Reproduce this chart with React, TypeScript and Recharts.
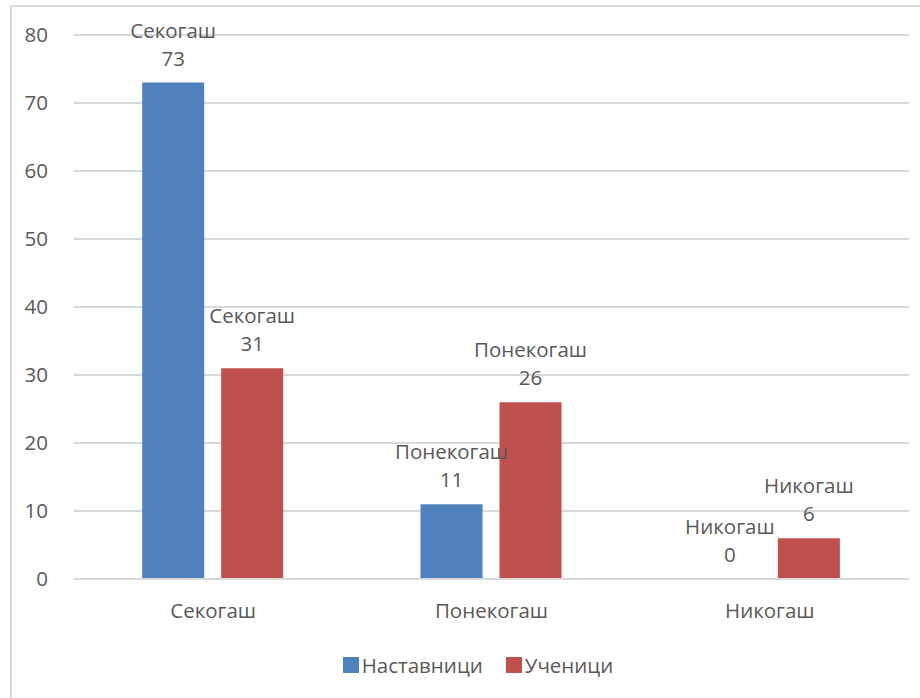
import React from "react";
import { BarChart, Bar, XAxis, YAxis, CartesianGrid, Legend, LabelList, Rectangle } from "recharts";

const categories = ["Секогаш", "Понекогаш", "Никогаш"];
const teachers = [73, 11, 0];
const students = [31, 26, 6];
const yTicks = [0, 10, 20, 30, 40, 50, 60, 70, 80];
const seriesNames = ["Наставници", "Ученици"];
const colors = ["#4F81BD", "#C0504D"];

const data = categories.map((c, i) => ({ name: c, t: teachers[i], s: students[i] }));

const FONT = "'Open Sans', sans-serif";
const TXT = "#595959";
const FS = 20.5;

const TwoLineLabel = (props: any) => {
  const { x, y, width, height, value, index } = props;
  const cx = x + width / 2;
  const top = Number(value) === 0 ? y + height : y;
  return (
    <g>
      <text x={cx} y={top - 53} textAnchor="middle" dominantBaseline="central" fontSize={FS} fontFamily={FONT} fill={TXT}>
        {categories[index]}
      </text>
      <text x={cx} y={top - 25} textAnchor="middle" dominantBaseline="central" fontSize={FS} fontFamily={FONT} fill={TXT}>
        {value}
      </text>
    </g>
  );
};

const BarShape = (props: any) => {
  const v = props.value;
  const val = Array.isArray(v) ? v[1] - v[0] : v;
  if (!val) return <g />;
  return <Rectangle {...props} />;
};

const LegendContent = () => (
  <div style={{ display: "flex", justifyContent: "center", alignItems: "center", fontFamily: FONT, fontSize: FS, color: TXT, paddingLeft: 47 }}>
    {seriesNames.map((n, i) => (
      <div key={n} style={{ display: "flex", alignItems: "center", marginLeft: i ? 23 : 0 }}>
        <span style={{ display: "inline-block", width: 16, height: 16, background: colors[i], marginRight: 3 }} />
        <span>{n}</span>
      </div>
    ))}
  </div>
);

export default function App() {
  return (
    <div style={{ position: "absolute", left: 0, top: 0, width: 920, height: 698, overflow: "hidden", background: "#fff" }}>
      <div style={{ position: "absolute", left: 10, top: 5, width: 940, height: 720, border: "2px solid #D9D9D9", boxSizing: "border-box" }} />
      <div style={{ position: "absolute", left: 0, top: 0 }}>
        <BarChart
          width={920}
          height={698}
          data={data}
          margin={{ top: 35, right: 11, left: 0, bottom: 20 }}
          barCategoryGap="24.5%"
          barGap={17}
        >
          <CartesianGrid vertical={false} stroke="#D9D9D9" strokeWidth={2} />
          <XAxis
            dataKey="name"
            axisLine={{ stroke: "#D9D9D9", strokeWidth: 2 }}
            tickLine={false}
            tick={{ fontSize: FS, fontFamily: FONT, fill: TXT }}
            tickMargin={18}
            height={72}
          />
          <YAxis
            domain={[0, 80]}
            ticks={yTicks}
            axisLine={false}
            tickLine={false}
            tickSize={0}
            tickMargin={26}
            width={74}
            tick={{ fontSize: FS, fontFamily: FONT, fill: TXT }}
          />
          <Legend verticalAlign="bottom" height={27} content={LegendContent} />
          <Bar dataKey="t" name={seriesNames[0]} fill={colors[0]} isAnimationActive={false} minPointSize={1} shape={BarShape}>
            <LabelList dataKey="t" content={TwoLineLabel} />
          </Bar>
          <Bar dataKey="s" name={seriesNames[1]} fill={colors[1]} isAnimationActive={false} shape={BarShape}>
            <LabelList dataKey="s" content={TwoLineLabel} />
          </Bar>
        </BarChart>
      </div>
    </div>
  );
}
